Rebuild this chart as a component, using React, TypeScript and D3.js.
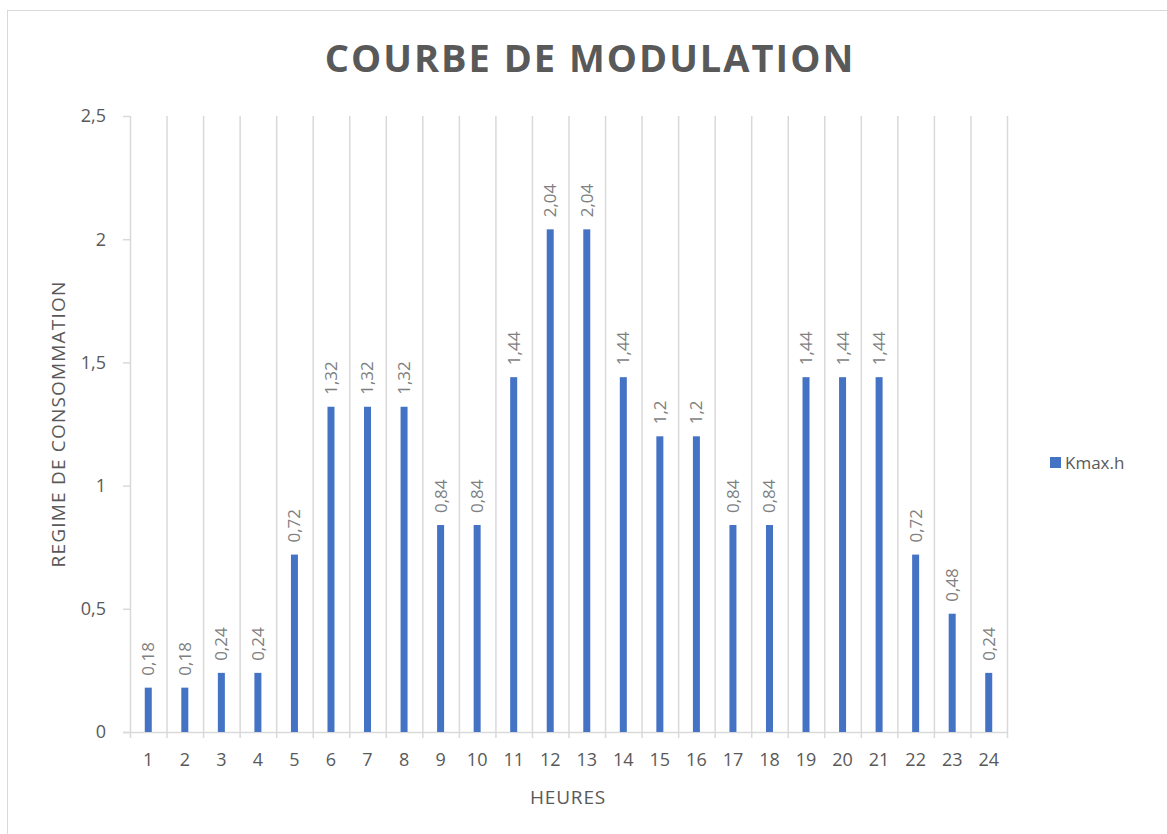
import React, { useEffect, useRef } from 'react';
import * as d3 from 'd3';

const hours = ['1', '2', '3', '4', '5', '6', '7', '8', '9', '10', '11', '12', '13', '14', '15', '16', '17', '18', '19', '20', '21', '22', '23', '24'];
const kmaxValues = [0.18, 0.18, 0.24, 0.24, 0.72, 1.32, 1.32, 1.32, 0.84, 0.84, 1.44, 2.04, 2.04, 1.44, 1.2, 1.2, 0.84, 0.84, 1.44, 1.44, 1.44, 0.72, 0.48, 0.24];
const yTicks = [0, 0.5, 1, 1.5, 2, 2.5];
const seriesName = 'Kmax.h';

const FONT = "'Open Sans', sans-serif";
const TEXT = '#595959';
const GRID = '#d9d9d9';
const BAR = '#4472c4';

const fr = (v: number) => String(v).replace('.', ',');

const App = () => {
  const ref = useRef<SVGSVGElement>(null);

  useEffect(() => {
    const svg = d3.select(ref.current);
    svg.selectAll('*').remove();

    const left = 130, right = 1007, top = 116, bottom = 732;

    // chart frame
    svg.append('rect')
      .attr('x', 7.5).attr('y', 10.5)
      .attr('width', 1200).attr('height', 900)
      .attr('fill', 'white')
      .attr('stroke', GRID);

    const x = d3.scaleBand().domain(hours).range([left, right]).padding(0);
    const y = d3.scaleLinear().domain([0, 2.5]).range([bottom, top]);

    // vertical gridlines at category edges
    const edges = hours.map(h => x(h)).concat([right]);
    svg.append('g').selectAll('line')
      .data(edges)
      .enter()
      .append('line')
      .attr('x1', d => d + 0.5).attr('x2', d => d + 0.5)
      .attr('y1', top).attr('y2', bottom + 6)
      .attr('stroke', GRID)
      .attr('stroke-width', 1.5);

    // x axis line
    svg.append('line')
      .attr('x1', left - 7).attr('x2', right)
      .attr('y1', bottom + 0.5).attr('y2', bottom + 0.5)
      .attr('stroke', GRID).attr('stroke-width', 1.5);

    // y ticks + labels
    const yg = svg.append('g');
    yg.selectAll('line')
      .data(yTicks)
      .enter()
      .append('line')
      .attr('x1', left - 7).attr('x2', left)
      .attr('y1', d => y(d) + 0.5).attr('y2', d => y(d) + 0.5)
      .attr('stroke', GRID).attr('stroke-width', 1.5);
    yg.selectAll('text')
      .data(yTicks)
      .enter()
      .append('text')
      .attr('x', 106)
      .attr('y', d => y(d))
      .attr('dy', '0.35em')
      .attr('text-anchor', 'end')
      .attr('font-family', FONT)
      .attr('font-size', 18)
      .attr('fill', TEXT)
      .text(d => fr(d));

    // x labels
    svg.append('g').selectAll('text')
      .data(hours)
      .enter()
      .append('text')
      .attr('x', d => x(d) + x.bandwidth() / 2)
      .attr('y', 760)
      .attr('dy', '0.35em')
      .attr('text-anchor', 'middle')
      .attr('font-family', FONT)
      .attr('font-size', 18)
      .attr('fill', TEXT)
      .text(d => d);

    // bars
    const bw = 7;
    svg.append('g').selectAll('rect')
      .data(kmaxValues)
      .enter()
      .append('rect')
      .attr('x', (d, i) => x(hours[i]) + x.bandwidth() / 2 - bw / 2)
      .attr('y', d => y(d))
      .attr('width', bw)
      .attr('height', d => bottom - y(d))
      .attr('fill', BAR);

    // data labels (rotated)
    svg.append('g').selectAll('text')
      .data(kmaxValues)
      .enter()
      .append('text')
      .attr('transform', (d, i) => `translate(${x(hours[i]) + x.bandwidth() / 2},${y(d) - 12}) rotate(-90)`)
      .attr('dy', '0.35em')
      .attr('font-family', FONT)
      .attr('font-size', 17)
      .attr('fill', '#7f7f7f')
      .text(d => fr(d));

    // title
    svg.append('text')
      .attr('x', 590).attr('y', 72)
      .attr('text-anchor', 'middle')
      .attr('font-family', FONT)
      .attr('font-weight', 'bold')
      .attr('font-size', 38)
      .attr('letter-spacing', 2)
      .attr('fill', TEXT)
      .text('COURBE DE MODULATION');

    // axis titles
    svg.append('text')
      .attr('x', 568).attr('y', 797)
      .attr('dy', '0.35em')
      .attr('text-anchor', 'middle')
      .attr('font-family', FONT)
      .attr('font-size', 19)
      .attr('letter-spacing', 0.8)
      .attr('fill', TEXT)
      .text('HEURES');

    svg.append('text')
      .attr('transform', 'translate(58,424) rotate(-90)')
      .attr('dy', '0.35em')
      .attr('text-anchor', 'middle')
      .attr('font-family', FONT)
      .attr('font-size', 19)
      .attr('letter-spacing', 1.2)
      .attr('fill', TEXT)
      .text('REGIME DE CONSOMMATION');

    // legend
    svg.append('rect')
      .attr('x', 1050).attr('y', 457)
      .attr('width', 11).attr('height', 11)
      .attr('fill', BAR);
    svg.append('text')
      .attr('x', 1065).attr('y', 463)
      .attr('dy', '0.35em')
      .attr('font-family', FONT)
      .attr('font-size', 17)
      .attr('fill', TEXT)
      .text(seriesName);
  }, []);

  return (
    <svg ref={ref} width={1167} height={834} style={{ position: 'absolute', left: 0, top: 0 }}></svg>
  );
};

export default App;
